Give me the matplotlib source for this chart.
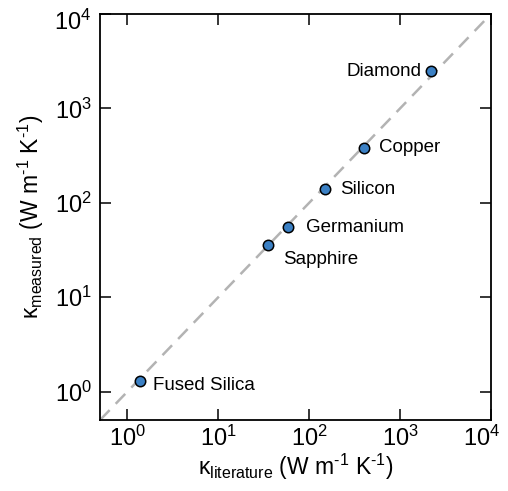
import matplotlib
matplotlib.use("Agg")
import matplotlib.pyplot as plt
from matplotlib.ticker import LogLocator, LogFormatterMathtext, NullLocator
from matplotlib.transforms import ScaledTranslation

plt.rcParams['font.family'] = ['Liberation Sans', 'DejaVu Sans']
plt.rcParams['mathtext.fontset'] = 'custom'
plt.rcParams['mathtext.rm'] = 'Liberation Sans'
plt.rcParams['mathtext.it'] = 'Liberation Sans:italic'
plt.rcParams['mathtext.bf'] = 'Liberation Sans:bold'

# 材料的热导率：文献值 vs 测量值
materials = ['Diamond', 'Copper', 'Silicon', 'Germanium', 'Sapphire', 'Fused Silica']
k_literature = [2200, 400, 149, 58, 35, 1.36]
k_measured = [2480, 385, 139, 55, 36, 1.29]

# 标签偏移 (points)
offsets = {
    'Diamond': (-7, 0, 'right', 'center'),
    'Copper': (11, 0, 'left', 'center'),
    'Silicon': (11, 0, 'left', 'center'),
    'Germanium': (13, 0, 'left', 'center'),
    'Sapphire': (11, -11, 'left', 'center'),
    'Fused Silica': (10, -3, 'left', 'center'),
}

fig = plt.figure(figsize=(5.08, 4.91), dpi=100)
ax = fig.add_axes([0.197, 0.1446, 0.7695, 0.8269])

ax.plot([0.5, 1e4], [0.5, 1e4], '--', color='#b3b3b3', linewidth=1.8, dashes=(5.5, 3.5), zorder=1)
ax.plot(k_literature, k_measured, 'o', markersize=7.5, markerfacecolor='#3b80c4',
        markeredgecolor='black', markeredgewidth=1.1, zorder=3)

for name, x, y in zip(materials, k_literature, k_measured):
    dx, dy, ha, va = offsets[name]
    ax.annotate(name, (x, y), xytext=(dx, dy), textcoords='offset points',
                ha=ha, va=va, fontsize=13.5)

ax.set_xscale('log')
ax.set_yscale('log')
ax.set_xlim(0.5, 1e4)
ax.set_ylim(0.5, 1e4)

for axis in (ax.xaxis, ax.yaxis):
    axis.set_major_locator(LogLocator(base=10, numticks=10))
    axis.set_major_formatter(LogFormatterMathtext())
    axis.set_minor_locator(NullLocator())

ax.tick_params(which='major', direction='in', length=8, width=1.1,
               top=True, right=True, labelsize=17, pad=6)
ax.tick_params(axis='x', pad=4)
for sp in ax.spines.values():
    sp.set_linewidth(1.3)

unit = r'(W m$^{\text{-1}}$ K$^{\text{-1}}$)'
ax.set_xlabel(r'κ$_{\mathrm{literature}}$ ' + unit, fontsize=16.5, labelpad=1)
ax.set_ylabel(r'κ$_{\mathrm{measured}}$ ' + unit, fontsize=16.5, labelpad=6)

# 角上的 10^4 标签往里挪一点
fig.canvas.draw()
for tick in ax.xaxis.get_major_ticks():
    if abs(tick.get_loc() - 1e4) < 1:
        tick.label1.set_transform(tick.label1.get_transform() + ScaledTranslation(-0.09, 0, fig.dpi_scale_trans))
for tick in ax.yaxis.get_major_ticks():
    if abs(tick.get_loc() - 1e4) < 1:
        tick.label1.set_transform(tick.label1.get_transform() + ScaledTranslation(0, -0.06, fig.dpi_scale_trans))

fig.savefig('out.png', dpi=100)
